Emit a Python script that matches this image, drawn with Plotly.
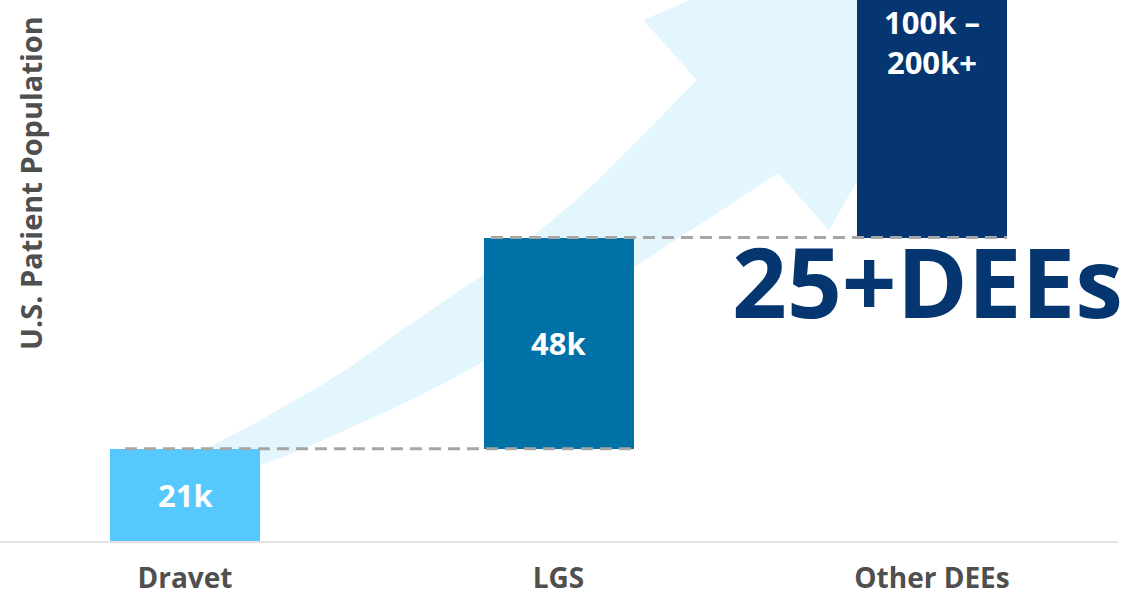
import plotly.graph_objects as go

# --- data -------------------------------------------------------------
categories = ["Dravet", "LGS", "Other DEEs"]
population_k = [21, 48, 100]          # Other DEEs: lower bound of the range
other_upper_k = 200                   # Other DEEs: upper bound ("200k+")
headline = "25+DEEs"
y_title = "U.S. Patient Population"

bar_colors = ["#55c9fe", "#0071a6", "#053672"]
arrow_color = "#e3f6fd"
label_gray = "#4f4f4f"

# --- geometry ---------------------------------------------------------
W, H = 1126, 598
M_L, M_R, M_T, M_B = 0, 8, 0, 57
PW, PH = W - M_L - M_R, H - M_T - M_B
y_max = 123                           # visible top of the value axis (k)
bar_width = 0.4016
x_pos = list(range(len(categories)))

# waterfall bases: each bar starts where the previous one ended
bases = [0]
for v in population_k[:-1]:
    bases.append(bases[-1] + v)
tops = [b + v for b, v in zip(bases, population_k)]

labels = [f"{v}k" for v in population_k[:-1]]
labels.append(f"{population_k[-1]}k –<br>{other_upper_k}k+")


def px(x, y):
    """pixel position inside the plot area -> paper coordinates"""
    return x / PW, 1 - y / PH


# outline of the rising background arrow (pixel space of the plot area)
upper_edge = [
    (172, 490), (170, 466), (195, 455), (217, 443), (250, 426), (283, 407),
    (317, 388), (350, 367), (377, 348), (403, 329), (443, 302), (483, 275),
    (517, 249), (550, 222), (575, 201), (600, 178), (650, 128), (697, 80),
]
arrow_head = [(643, 20), (1050, -153), (829, 230)]
lower_edge = [
    (778, 173), (730, 205), (680, 237), (630, 270), (580, 302), (530, 334),
    (483, 362), (450, 380), (417, 397), (383, 413), (350, 428), (317, 443),
    (290, 454), (258, 466), (250, 490),
]
arrow_px = upper_edge + arrow_head + lower_edge
pts = [px(x, y) for x, y in arrow_px]
arrow_path = "M " + " L ".join(f"{a:.4f},{b:.4f}" for a, b in pts) + " Z"

fig = go.Figure()

fig.add_trace(go.Bar(
    x=x_pos, y=population_k, base=bases, width=bar_width,
    marker=dict(color=bar_colors, line=dict(width=0)),
    hoverinfo="skip", showlegend=False,
))

shapes = [dict(
    type="path", path=arrow_path, xref="paper", yref="paper",
    fillcolor=arrow_color, line=dict(width=0), layer="below",
)]

# dashed connectors at the top of each step
half = bar_width / 2
connectors = [
    (x_pos[0] - half + 0.04, x_pos[1] + half + 0.013, tops[0]),
    (x_pos[1] - half + 0.02, x_pos[2] + half, tops[1]),
]
for x0, x1, yv in connectors:
    shapes.append(dict(
        type="line", xref="x", yref="y", x0=x0, x1=x1, y0=yv, y1=yv,
        line=dict(color="#a6a6a6", width=3, dash="12px,7px"), layer="above",
    ))

annotations = []
label_font = dict(family="Open Sans", size=31, color="white", weight="bold")
for i in range(2):
    annotations.append(dict(
        x=x_pos[i], y=bases[i] + population_k[i] / 2, xref="x", yref="y",
        xanchor="center", yanchor="middle",
        text=labels[i], showarrow=False, font=label_font,
    ))
annotations.append(dict(
    x=x_pos[2], y=1 - 42 / PH, xref="x", yref="paper",
    xanchor="center", yanchor="middle",
    text=labels[2], showarrow=False, font=label_font,
))
annotations.append(dict(
    x=927 / PW, y=1 - 280 / PH, xref="paper", yref="paper",
    xanchor="center", yanchor="middle",
    text=headline, showarrow=False,
    font=dict(family="Open Sans", size=96, color="#06366f", weight="bold"),
))
annotations.append(dict(
    x=30 / PW, y=1 - 183 / PH, xref="paper", yref="paper",
    xanchor="center", yanchor="middle",
    text=y_title, textangle=-90, showarrow=False,
    font=dict(family="Open Sans", size=29, color=label_gray, weight="bold"),
))

fig.update_layout(
    width=W, height=H,
    margin=dict(l=M_L, r=M_R, t=M_T, b=M_B),
    paper_bgcolor="white", plot_bgcolor="white",
    shapes=shapes, annotations=annotations,
    bargap=0,
    xaxis=dict(
        range=[-185 / 373.5, (PW - 185) / 373.5],
        tickvals=x_pos, ticktext=categories,
        showline=True, linecolor="#e4e4e4", linewidth=2,
        showgrid=False, zeroline=False, ticks="",
        ticklabelstandoff=11, automargin=False,
        tickfont=dict(family="Open Sans", size=28, color=label_gray, weight="bold"),
        fixedrange=True,
    ),
    yaxis=dict(range=[0, y_max], visible=False, fixedrange=True,
               automargin=False),
)

fig.write_html("out.html")
